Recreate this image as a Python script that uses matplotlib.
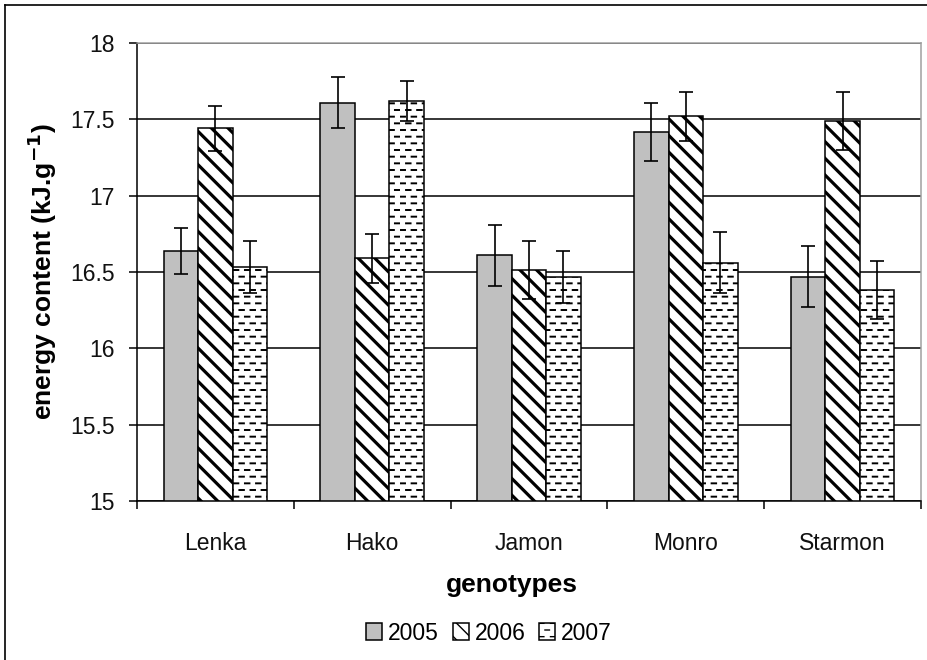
import numpy as np
import matplotlib
matplotlib.use("Agg")
import matplotlib.pyplot as plt
import matplotlib.hatch as mhatch
from matplotlib.path import Path
from matplotlib.lines import Line2D

# ---------------- data ----------------
genotypes = ["Lenka", "Hako", "Jamon", "Monro", "Starmon"]
years = ["2005", "2006", "2007"]
vals_2005 = [16.64, 17.61, 16.61, 17.42, 16.47]
vals_2006 = [17.44, 16.59, 16.51, 17.52, 17.49]
vals_2007 = [16.53, 17.62, 16.47, 16.56, 16.38]
err_2005 = [0.15, 0.17, 0.20, 0.19, 0.20]
err_2006 = [0.15, 0.16, 0.19, 0.16, 0.19]
err_2007 = [0.17, 0.13, 0.17, 0.20, 0.19]
yticks = [15, 15.5, 16, 16.5, 17, 17.5, 18]


# ------- dashed horizontal hatch (replaces the plain '-' hatch) -------
class DashHatch(mhatch.HatchPatternBase):
    def __init__(self, hatch, density):
        n = hatch.count('-')
        self.rows = 15 if n else 0
        self.cols = 9
        self.num_lines = self.rows * self.cols
        self.num_vertices = self.num_lines * 2

    def set_vertices_and_codes(self, vertices, codes):
        k = 0
        L = 0.045
        for r in range(self.rows):
            y = (r + 0.5) / self.rows
            off = 0.5 / self.cols if r % 2 else 0.0
            for c in range(self.cols):
                x0 = c / self.cols + off + 0.005
                vertices[k] = (x0, y)
                vertices[k + 1] = (x0 + L, y)
                codes[k] = Path.MOVETO
                codes[k + 1] = Path.LINETO
                k += 2


mhatch._hatch_types[0] = DashHatch

plt.rcParams['font.family'] = ['Liberation Sans', 'DejaVu Sans']
plt.rcParams['hatch.color'] = 'black'

fig = plt.figure(figsize=(9.28, 6.6), dpi=100)
ax = fig.add_axes([137 / 928, 1 - 501 / 660, (921 - 137) / 928, (501 - 43) / 660])

x = np.arange(len(genotypes)) + 0.5
w = 0.22

series = [vals_2005, vals_2006, vals_2007]
errs = [err_2005, err_2006, err_2007]
styles = [
    dict(color='#c0c0c0', hatch=None, hlw=1.0),
    dict(color='white', hatch='\\\\', hlw=2.3),
    dict(color='white', hatch='-', hlw=1.4),
]

handles = []
for i, (v, e, st) in enumerate(zip(series, errs, styles)):
    with plt.rc_context({'hatch.linewidth': st['hlw']}):
        bars = ax.bar(x + (i - 1) * w, v, width=w, bottom=0,
                      color=st['color'], edgecolor='black', linewidth=1.1,
                      hatch=st['hatch'], zorder=2, label=years[i])
        for b in bars:
            if hasattr(b, 'set_hatch_linewidth'):
                b.set_hatch_linewidth(st['hlw'])
    handles.append(bars)
    ax.errorbar(x + (i - 1) * w, v, yerr=e, fmt='none', ecolor='black',
                elinewidth=1.2, capsize=5, capthick=1.2, zorder=3)

ax.set_ylim(15, 18)
ax.set_xlim(0, len(genotypes))
ax.set_yticks(yticks)
ax.set_yticklabels([f"{t:g}" for t in yticks])
ax.yaxis.grid(True, color='black', linewidth=1.1)
ax.set_axisbelow(True)

ax.set_xticks(np.arange(len(genotypes) + 1))
ax.set_xticklabels([])
ax.set_xticks(x, minor=True)
ax.set_xticklabels(genotypes, minor=True)
ax.tick_params(axis='x', which='major', direction='out', length=6, width=1.1)
ax.tick_params(axis='x', which='minor', length=0, pad=22, labelsize=16.5, labelcolor='#111111')
ax.tick_params(axis='y', direction='out', length=6, width=1.1, labelsize=16.5, pad=10,
               labelcolor='#111111')

for s in ['left', 'bottom']:
    ax.spines[s].set_color('black')
    ax.spines[s].set_linewidth(1.1)
for s in ['top', 'right']:
    ax.spines[s].set_color('#a0a0a0')
    ax.spines[s].set_linewidth(1.1)

ax.set_ylabel("energy content (kJ.g$^{\\mathbf{-1}}$)", fontsize=19, fontweight='bold', labelpad=8)
ax.set_xlabel("genotypes", fontsize=19, fontweight='bold', labelpad=13)
ax.xaxis.label.set_x(0.478)

leg = fig.legend(handles=handles, labels=years, loc='center', bbox_to_anchor=(489 / 928, 1 - 633 / 660),
                 ncol=3, frameon=False, fontsize=16.5, handlelength=0.7, handleheight=0.7,
                 handletextpad=0.25, columnspacing=0.6)

# figure border (top and left visible)
fig.add_artist(Line2D([5 / 928, 1], [1 - 5 / 660, 1 - 5 / 660], color='black', linewidth=1.2,
                      transform=fig.transFigure))
fig.add_artist(Line2D([5 / 928, 5 / 928], [0, 1 - 5 / 660], color='black', linewidth=1.2,
                      transform=fig.transFigure))

fig.savefig("out.png", dpi=100)
